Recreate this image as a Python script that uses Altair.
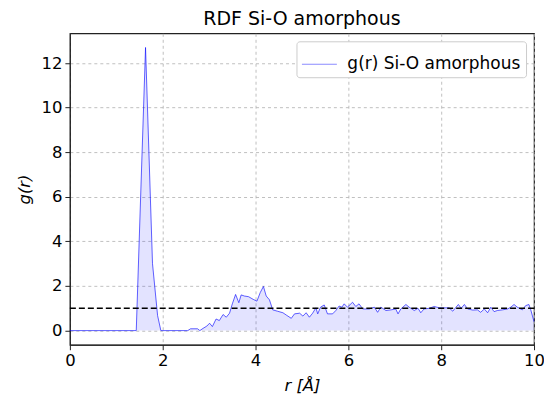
import altair as alt
import pandas as pd

r_vals = [0.0, 1.43, 1.63, 1.78, 1.89, 1.96, 2.54, 2.6, 2.75, 2.8, 2.87, 2.95, 3.01, 3.07,
          3.15, 3.22, 3.30, 3.37, 3.44, 3.50, 3.57, 3.64, 3.69, 3.76, 3.85, 3.95, 4.03,
          4.10, 4.17, 4.23, 4.30, 4.37, 4.47, 4.59, 4.66, 4.77, 4.84, 4.95, 5.02, 5.09,
          5.16, 5.23, 5.30, 5.34, 5.40, 5.48, 5.55, 5.66, 5.73, 5.80, 5.86, 5.91, 5.98,
          6.09, 6.16, 6.23, 6.31, 6.45, 6.56, 6.63, 6.70, 6.81, 6.92, 7.02, 7.07, 7.13,
          7.24, 7.31, 7.42, 7.50, 7.56, 7.63, 7.74, 7.85, 7.96, 8.06, 8.17, 8.25, 8.32,
          8.37, 8.43, 8.50, 8.57, 8.68, 8.78, 8.85, 8.93, 9.00, 9.07, 9.14, 9.21, 9.32,
          9.43, 9.50, 9.57, 9.64, 9.75, 9.82, 9.89, 9.93, 10.0]
g_vals = [0.0, 0.0, 12.7, 3.0, 0.67, 0.0, 0.0, 0.08, 0.08, 0.0, 0.1, 0.2, 0.33, 0.18,
          0.52, 0.45, 0.72, 0.6, 0.78, 1.2, 1.62, 1.25, 1.6, 1.55, 1.52, 1.4, 1.32,
          1.7, 1.98, 1.55, 1.38, 0.93, 0.87, 0.8, 0.7, 0.55, 0.75, 0.78, 0.65, 0.8,
          0.6, 0.78, 1.02, 0.75, 1.05, 1.15, 0.75, 0.75, 0.9, 1.1, 1.05, 1.2, 1.05,
          1.27, 1.08, 1.2, 0.97, 0.97, 1.05, 0.82, 1.05, 0.9, 0.93, 0.97, 0.75, 0.97,
          1.17, 1.05, 0.9, 1.0, 0.8, 0.97, 1.0, 1.08, 1.02, 1.02, 1.02, 0.87, 1.05,
          1.17, 1.0, 1.17, 0.97, 0.92, 0.93, 0.82, 0.97, 0.8, 1.05, 0.85, 0.9, 0.93,
          0.97, 1.05, 1.17, 1.05, 0.93, 1.12, 1.17, 0.93, 0.4]
series_name = "g(r) Si-O amorphous"
x_ticks = [0, 2, 4, 6, 8, 10]
y_ticks = [0, 2, 4, 6, 8, 10, 12]
ref_level = 1.0

df = pd.DataFrame({"r": r_vals, "g": g_vals, "series": series_name})

FONT = "DejaVu Sans"
xs = alt.Scale(domain=[0, 10], nice=False, zero=False)
ys = alt.Scale(domain=[-0.635, 13.335], nice=False, zero=False)

x_enc = alt.X("r:Q", scale=xs, title="r [Å]",
              axis=alt.Axis(values=x_ticks, titleFontStyle="italic", labelFlush=False))
y_enc = alt.Y("g:Q", scale=ys, title="g(r)",
              axis=alt.Axis(values=y_ticks, titleFontStyle="italic", labelFlush=False))

area = alt.Chart(df).mark_area(color="blue", opacity=0.11, interpolate="linear").encode(
    x=x_enc, y=y_enc, y2=alt.datum(0)
)
line = alt.Chart(df).mark_line(strokeWidth=1, strokeOpacity=0.62).encode(
    x=x_enc, y=y_enc,
    stroke=alt.Stroke("series:N", scale=alt.Scale(range=["blue"]),
                      legend=alt.Legend(title=None, orient="top-right"))
)
rule = alt.Chart(pd.DataFrame({"v": [ref_level]})).mark_rule(
    color="black", strokeDash=[6, 3], strokeWidth=1.6
).encode(y=alt.Y("v:Q", scale=ys))

chart = alt.layer(area, line, rule).properties(
    width=465, height=312,
    title=alt.TitleParams("RDF Si-O amorphous", fontSize=19, font=FONT,
                          fontWeight="normal", color="black", offset=4),
    autosize=alt.AutoSizeParams(type="none"),
    padding={"left": 62, "top": 25, "right": 10, "bottom": 52},
).configure_view(stroke="#222222", strokeWidth=1.2).configure_axis(
    labelFont=FONT, titleFont=FONT, labelFontSize=16.5, titleFontSize=16.5,
    labelColor="black", titleColor="black", titleFontWeight="normal",
    domainColor="#222222", tickColor="#222222", tickSize=5, labelPadding=3,
    gridColor="#b0b0b0", gridDash=[3, 3], gridWidth=0.8,
).configure_axisX(titlePadding=8).configure_axisY(titlePadding=8).configure_legend(
    labelFont=FONT, labelFontSize=17, labelColor="black", symbolType="stroke",
    symbolSize=1225, symbolStrokeWidth=1, symbolOpacity=0.45, strokeColor="#cccccc",
    fillColor="white", padding=5, cornerRadius=3, offset=8, labelOffset=10,
    labelLimit=400,
)

chart.save("out.html", embed_options={"renderer": "svg", "actions": False})
